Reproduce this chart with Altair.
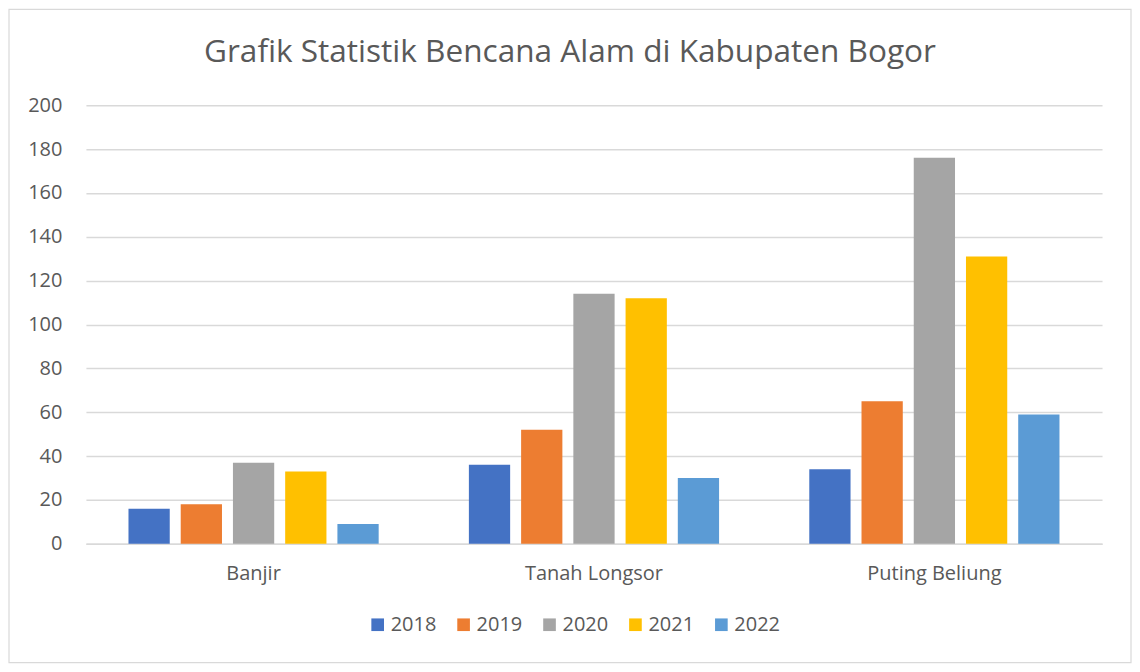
import altair as alt
import pandas as pd

categories = ["Banjir", "Tanah Longsor", "Puting Beliung"]
years = ["2018", "2019", "2020", "2021", "2022"]
values_2018 = [16, 36, 34]
values_2019 = [18, 52, 65]
values_2020 = [37, 114, 176]
values_2021 = [33, 112, 131]
values_2022 = [9, 30, 59]
colors = ["#4472C4", "#ED7D31", "#A5A5A5", "#FFC000", "#5B9BD5"]
y_ticks = list(range(0, 201, 20))

series = [values_2018, values_2019, values_2020, values_2021, values_2022]
rows = []
for yr, vals in zip(years, series):
    for cat, v in zip(categories, vals):
        rows.append({"Kategori": cat, "Tahun": yr, "Jumlah": v})
df = pd.DataFrame(rows)

FONT = "Open Sans"
W, H = 1017, 439

bars = alt.Chart(df).mark_bar().encode(
    x=alt.X("Kategori:N", sort=categories,
            scale=alt.Scale(paddingInner=0.265, paddingOuter=0.125),
            axis=alt.Axis(title=None, labelAngle=0, ticks=False, domain=True,
                          domainColor="#D9D9D9", domainWidth=1.5,
                          labelFont=FONT, labelFontSize=20, labelColor="#595959",
                          labelPadding=20)),
    xOffset=alt.XOffset("Tahun:N", sort=years,
                        scale=alt.Scale(paddingInner=0.21, paddingOuter=0)),
    y=alt.Y("Jumlah:Q", scale=alt.Scale(domain=[0, 200], nice=False),
            axis=alt.Axis(title=None, values=y_ticks, ticks=False, domain=False,
                          gridColor="#D9D9D9", gridWidth=1.5,
                          labelFont=FONT, labelFontSize=20, labelColor="#595959",
                          labelPadding=24)),
    color=alt.Color("Tahun:N", sort=years,
                    scale=alt.Scale(domain=years, range=colors),
                    legend=alt.Legend(title=None, orient="none", direction="horizontal",
                                      legendX=282, legendY=510,
                                      symbolType="square", symbolSize=160,
                                      symbolStrokeWidth=0,
                                      labelFont=FONT, labelFontSize=20,
                                      labelColor="#595959", columnPadding=17,
                                      labelOffset=3)),
)

border = alt.Chart(pd.DataFrame({"b": [0]})).mark_rect(
    fill=None, stroke="#D9D9D9", strokeWidth=1.2
).encode(
    x=alt.value(-77), x2=alt.value(W + 29), y=alt.value(-96), y2=alt.value(H + 119)
)

chart = alt.layer(border, bars).properties(
    width=W, height=H,
    padding=0,
    background="white",
    title=alt.TitleParams(
        "Grafik Statistik Bencana Alam di Kabupaten Bogor",
        font=FONT, fontSize=31.6, fontWeight="normal", color="#595959",
        anchor="middle", dx=-24, offset=-60,
    ),
).configure_view(stroke=None)

chart.save("out.html", embed_options={"renderer": "svg", "actions": False})
